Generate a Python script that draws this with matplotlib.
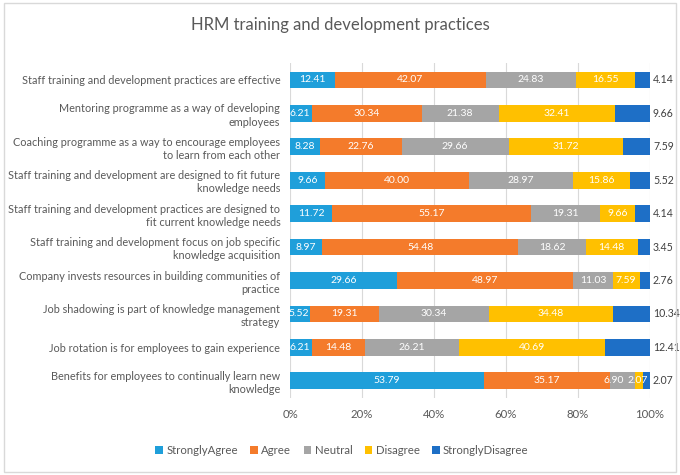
import numpy as np
import matplotlib
matplotlib.use("Agg")
import matplotlib.pyplot as plt
from matplotlib.patches import FancyBboxPatch

plt.rcParams['font.family'] = ['Lato', 'DejaVu Sans']

# Survey statements (top to bottom as in the chart)
statements = [
    "Staff training and development practices are effective",
    "Mentoring programme as a way of developing\nemployees",
    "Coaching programme as a way to encourage employees\nto learn from each other",
    "Staff training and development are designed to fit future\nknowledge needs",
    "Staff training and development practices are designed to\nfit current knowledge needs",
    "Staff training and development focus on job specific\nknowledge acquisition",
    "Company invests resources in building communities of\npractice",
    "Job shadowing is part of knowledge management\nstrategy",
    "Job rotation is for employees to gain experience",
    "Benefits for employees to continually learn new\nknowledge",
]
series_names = ["StronglyAgree", "Agree", "Neutral", "Disagree", "StronglyDisagree"]

# percentages for each answer
strongly_agree = [12.41, 6.21, 8.28, 9.66, 11.72, 8.97, 29.66, 5.52, 6.21, 53.79]
agree = [42.07, 30.34, 22.76, 40.00, 55.17, 54.48, 48.97, 19.31, 14.48, 35.17]
neutral = [24.83, 21.38, 29.66, 28.97, 19.31, 18.62, 11.03, 30.34, 26.21, 6.90]
disagree = [16.55, 32.41, 31.72, 15.86, 9.66, 14.48, 7.59, 34.48, 40.69, 2.07]
strongly_disagree = [4.14, 9.66, 7.59, 5.52, 4.14, 3.45, 2.76, 10.34, 12.41, 2.07]

colors = ["#1F9FDA", "#F47B2B", "#A5A5A5", "#FFC000", "#1E6FC6"]

data = [strongly_agree, agree, neutral, disagree, strongly_disagree]

fig = plt.figure(figsize=(6.8, 4.75), dpi=100)
ax = fig.add_axes([0.4265, 0.163, 0.5295, 0.704])

y = np.arange(len(statements))
left = np.zeros(len(statements))
for k, (name, vals) in enumerate(zip(series_names, data)):
    vals = np.array(vals)
    ax.barh(y, vals, left=left, height=0.5, color=colors[k], label=name, zorder=2)
    for i, v in enumerate(vals):
        if k < 4:
            xc = left[i] + v / 2
            if v < 8:
                # tiny segments: nudge the label left, as in the original
                xc -= 2.6 if k == 2 else 0.3
            ax.text(xc, y[i], f"{v:.2f}", ha='center', va='center',
                    color='white', fontsize=7.5, zorder=3)
        else:
            ax.text(100.8, y[i], f"{v:.2f}", ha='left', va='center',
                    color='#404040', fontsize=7.6, clip_on=False)
    left += vals

ax.set_xlim(0, 100)
ax.set_ylim(len(statements) - 0.5, -0.5)
ax.set_yticks(y)
ax.set_yticklabels(statements, fontsize=7.8, color='#595959', linespacing=1.25)
ax.set_xticks(np.arange(0, 101, 20))
ax.set_xticklabels([f"{t}%" for t in range(0, 101, 20)], fontsize=8.2, color='#595959')
ax.tick_params(length=0, pad=8)
ax.tick_params(axis='y', pad=7)
ax.grid(axis='x', color='#D9D9D9', lw=0.8, zorder=0)
for s in ax.spines.values():
    s.set_visible(False)

fig.suptitle("HRM training and development practices", x=0.5, y=0.965,
             fontsize=12, color='#595959')

fig.legend(loc='center', bbox_to_anchor=(0.503, 0.052), ncol=5, frameon=False,
           fontsize=8.2, handlelength=0.65, handleheight=0.65, handletextpad=0.3,
           columnspacing=1.1, labelcolor='#595959')

border = FancyBboxPatch((0.006, 0.006), 0.988, 0.988, boxstyle="square,pad=0",
                        transform=fig.transFigure, fill=False, ec='#D9D9D9', lw=1)
fig.patches.append(border)

fig.savefig("out.png", dpi=100)
